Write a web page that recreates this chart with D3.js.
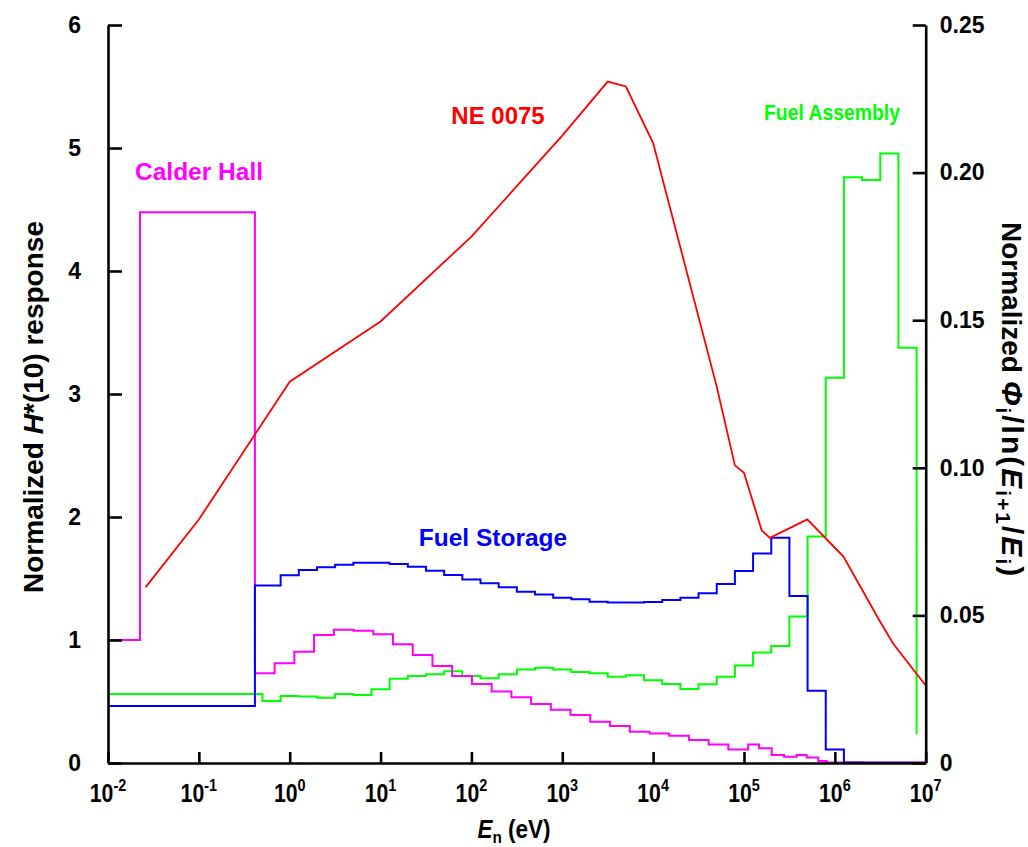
<!DOCTYPE html>
<html>
<head>
<meta charset="utf-8">
<script src="https://cdn.jsdelivr.net/npm/d3@7"></script>
<style>
  body { margin: 0; background: #fff; }
  svg { display: block; font-family: "Liberation Sans", Arial, sans-serif; font-weight: bold; }
</style>
</head>
<body>
<div id="chart"></div>
<script>
const width = 1028;
const height = 847;

// x ticks (decades, eV)
const xTickExp = [-2, -1, 0, 1, 2, 3, 4, 5, 6, 7];
const leftTicks = [0, 1, 2, 3, 4, 5, 6];
const rightTicks = [0, 0.05, 0.1, 0.15, 0.2, 0.25];

// Fuel Storage spectrum: bin edges as log10(E/eV), values on right axis
const storageEdges = [-2, -0.383, -0.1, 0.1, 0.3, 0.5, 0.7, 0.9, 1.1, 1.3, 1.5, 1.7, 1.9, 2.1,
  2.3, 2.5, 2.7, 2.9, 3.1, 3.3, 3.5, 3.7, 3.9, 4.1, 4.3, 4.5, 4.7, 4.9, 5.1, 5.3, 5.5, 5.7,
  5.9, 6.1, 6.3, 7.0];
const storageValues = [0.0193, 0.0601, 0.0636, 0.0654, 0.0663, 0.0672, 0.0678, 0.0678, 0.0674,
  0.0665, 0.0651, 0.0637, 0.0622, 0.0609, 0.0595, 0.0580, 0.0571, 0.0560, 0.0555, 0.0546,
  0.0544, 0.0544, 0.0545, 0.0552, 0.0560, 0.0575, 0.0606, 0.0650, 0.0710, 0.0763, 0.0566,
  0.0245, 0.0046, 0.0002, 0.0001];

// Fuel Assembly spectrum
const assemblyEdges = [-2, -0.3, -0.1, 0.1, 0.3, 0.5, 0.7, 0.9, 1.1, 1.3, 1.5, 1.7, 1.9, 2.1,
  2.3, 2.5, 2.7, 2.9, 3.1, 3.3, 3.5, 3.7, 3.9, 4.1, 4.3, 4.5, 4.7, 4.9, 5.1, 5.3, 5.5, 5.7,
  5.9, 6.1, 6.3, 6.5, 6.7, 6.9, 6.9];
const assemblyValues = [0.0234, 0.0210, 0.0227, 0.0225, 0.0221, 0.0234, 0.0230, 0.0250, 0.0285,
  0.0295, 0.0301, 0.0311, 0.0295, 0.0287, 0.0301, 0.0317, 0.0323, 0.0317, 0.0308, 0.0304,
  0.0292, 0.0297, 0.0280, 0.0268, 0.0251, 0.0267, 0.0292, 0.0330, 0.0374, 0.0396, 0.0496,
  0.0767, 0.1305, 0.1984, 0.1975, 0.2065, 0.1407, 0.0098];

// Calder Hall spectrum
const calderEdges = [-2, -1.648, -0.383, -0.166, 0.051, 0.268, 0.486, 0.703, 0.920, 1.137,
  1.354, 1.571, 1.788, 2.006, 2.223, 2.440, 2.657, 2.874, 3.091, 3.308, 3.526, 3.743, 3.960,
  4.177, 4.394, 4.611, 4.828, 5.046, 5.166, 5.305, 5.441, 5.580, 5.690, 5.818, 5.910, 7.0];
const calderValues = [0.0417, 0.1866, 0.0304, 0.0338, 0.0377, 0.0434, 0.0451, 0.0448, 0.0436,
  0.0402, 0.0366, 0.0329, 0.0295, 0.0268, 0.0242, 0.0223, 0.0200, 0.0180, 0.0163, 0.0140,
  0.0125, 0.0106, 0.0100, 0.0092, 0.0078, 0.0063, 0.0046, 0.0063, 0.0050, 0.0027, 0.0021,
  0.0027, 0.0019, 0.0007, 0.0002];

// NE 0075 H*(10) response, left axis
const ne0075LogE = [-1.585, -1.0, 0.0, 1.0, 2.0, 3.0, 3.5, 3.7, 4.0, 4.7, 4.9, 5.0, 5.195,
  5.286, 5.697, 6.0, 6.093, 6.497, 6.643, 7.0];
const ne0075Response = [1.43, 1.98, 3.10, 3.59, 4.28, 5.10, 5.54, 5.50, 5.04, 3.06, 2.42, 2.36,
  1.89, 1.83, 1.98, 1.75, 1.68, 1.15, 0.97, 0.63];

const svg = d3
  .select("#chart")
  .append("svg")
  .attr("width", width)
  .attr("height", height);

const x = d3.scaleLog().domain([1e-2, 1e7]).range([108, 925.7]);
const yL = d3.scaleLinear().domain([0, 6]).range([763, 25]);
const yR = d3.scaleLinear().domain([0, 0.25]).range([763, 25]);

function stepPoints(edges, values) {
  const pts = [];
  values.forEach((v, i) => {
    pts.push([Math.pow(10, edges[i]), v]);
    pts.push([Math.pow(10, edges[i + 1]), v]);
  });
  return pts;
}

const stepLine = d3
  .line()
  .x((d) => x(d[0]))
  .y((d) => yR(d[1]));

const spectra = [
  { edges: assemblyEdges, values: assemblyValues, color: "#00ff00" },
  { edges: calderEdges, values: calderValues, color: "#ff00ff" },
  { edges: storageEdges, values: storageValues, color: "#0000ff" },
];

spectra.forEach((s) => {
  svg
    .append("path")
    .attr("d", stepLine(stepPoints(s.edges, s.values)))
    .attr("fill", "none")
    .attr("stroke", s.color)
    .attr("stroke-width", 2);
});

const responseLine = d3
  .line()
  .x((d, i) => x(Math.pow(10, ne0075LogE[i])))
  .y((d) => yL(d));

svg
  .append("path")
  .attr("d", responseLine(ne0075Response))
  .attr("fill", "none")
  .attr("stroke", "#ff0000")
  .attr("stroke-width", 1.8);

// axes
const leftAxis = d3
  .axisLeft(yL)
  .tickValues(leftTicks)
  .tickSizeInner(-14)
  .tickSizeOuter(0)
  .tickPadding(27)
  .tickFormat(d3.format("d"));
const rightAxis = d3
  .axisRight(yR)
  .tickValues(rightTicks)
  .tickSizeInner(-13)
  .tickSizeOuter(0)
  .tickPadding(14)
  .tickFormat((d) => (d === 0 ? "0" : d3.format(".2f")(d)));
const bottomAxis = d3
  .axisBottom(x)
  .tickValues(xTickExp.map((e) => Math.pow(10, e)))
  .tickSizeInner(-11)
  .tickSizeOuter(0)
  .tickFormat("");

const gl = svg.append("g").attr("transform", "translate(108,0)").call(leftAxis);
const gr = svg.append("g").attr("transform", "translate(925.7,0)").call(rightAxis);
const gb = svg.append("g").attr("transform", "translate(0,763)").call(bottomAxis);

[gl, gr, gb].forEach((g) => {
  g.selectAll("path, line").attr("stroke", "#000").attr("stroke-width", 2.6);
  g.selectAll("text")
    .attr("fill", "#000")
    .style("font-size", "23px")
    .style("font-family", '"Liberation Sans", Arial, sans-serif')
    .style("font-weight", "bold");
});

// decade labels 10^n
xTickExp.forEach((e) => {
  const t = svg
    .append("text")
    .attr("transform", `translate(${x(Math.pow(10, e))},802) scale(0.85,1)`)
    .attr("text-anchor", "middle")
    .style("font-size", "25px");
  t.append("tspan").text("10");
  t.append("tspan").attr("dy", -11).style("font-size", "17px").text(e);
});

// axis titles
const xTitle = svg
  .append("text")
  .attr("transform", "translate(514,838) scale(0.9,1)")
  .attr("text-anchor", "middle")
  .style("font-size", "25px");
xTitle.append("tspan").style("font-style", "italic").text("E");
xTitle.append("tspan").attr("dy", 5).style("font-size", "17px").text("n");
xTitle.append("tspan").attr("dy", -5).text(" (eV)");

const yTitle = svg
  .append("text")
  .attr("transform", "translate(43,407) rotate(-90)")
  .attr("text-anchor", "middle")
  .style("font-size", "28px");
yTitle.append("tspan").text("Normalized ");
yTitle.append("tspan").style("font-style", "italic").text("H");
yTitle.append("tspan").text("*(10) response");

const y2Title = svg
  .append("text")
  .attr("transform", "translate(1002,222) rotate(90)")
  .attr("text-anchor", "start")
  .style("font-size", "28px");
y2Title.append("tspan").text("Normalized ");
const mathPart = y2Title.append("tspan").style("font-size", "30px").style("letter-spacing", "2px");
mathPart.append("tspan").style("font-style", "italic").text("Φ");
mathPart.append("tspan").attr("dy", 6).style("font-size", "21px").text("i");
mathPart.append("tspan").attr("dy", -6).text("/ln(");
mathPart.append("tspan").style("font-style", "italic").text("E");
mathPart.append("tspan").attr("dy", 6).style("font-size", "21px").text("i+1");
mathPart.append("tspan").attr("dy", -6).text("/");
mathPart.append("tspan").style("font-style", "italic").text("E");
mathPart.append("tspan").attr("dy", 6).style("font-size", "21px").text("i");
mathPart.append("tspan").attr("dy", -6).text(")");

// series labels
const labels = [
  { text: "NE 0075", x: 498, y: 124, color: "#ff0000", size: 24 },
  { text: "Fuel Assembly", x: 832, y: 120, color: "#00ff00", size: 22, len: 136 },
  { text: "Calder Hall", x: 199, y: 180, color: "#ff00ff", size: 24.5 },
  { text: "Fuel Storage", x: 493, y: 546, color: "#0000ff", size: 24.5 },
];

svg
  .selectAll(".series-label")
  .data(labels)
  .join("text")
  .attr("class", "series-label")
  .attr("x", (d) => d.x)
  .attr("y", (d) => d.y)
  .attr("text-anchor", "middle")
  .attr("fill", (d) => d.color)
  .attr("textLength", (d) => d.len || null)
  .attr("lengthAdjust", "spacingAndGlyphs")
  .style("font-size", (d) => d.size + "px")
  .text((d) => d.text);
</script>
</body>
</html>
